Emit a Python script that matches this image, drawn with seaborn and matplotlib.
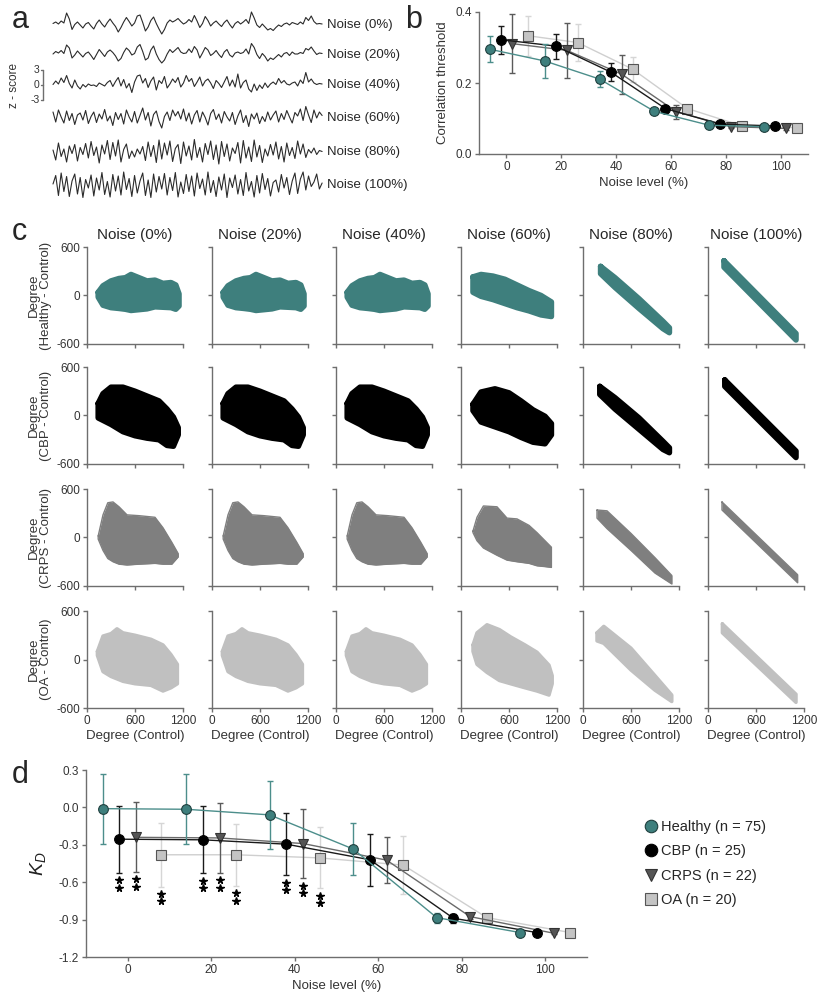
import numpy as np
import pandas as pd
import matplotlib
matplotlib.use("Agg")
import matplotlib.pyplot as plt
from matplotlib.lines import Line2D
import seaborn as sns

sns.set_theme(style="ticks")
plt.rcParams["font.family"] = ["Liberation Sans", "DejaVu Sans"]
plt.rcParams["mathtext.fontset"] = "custom"
plt.rcParams["mathtext.it"] = "Liberation Sans:italic"
plt.rcParams["mathtext.rm"] = "Liberation Sans"
plt.rcParams["axes.unicode_minus"] = False

# ----------------------------------------------------------------
# Data
# ----------------------------------------------------------------
NOISE_LEVELS = [0, 20, 40, 60, 80, 100]
GROUPS = ["Healthy", "CBP", "CRPS", "OA"]
GROUP_N = [75, 25, 22, 20]

# panel a: example z-scored time series
TRACE_0 = [0.3, 0.6, 0.2, 0.8, 0.4, 2.4, 1.2, -0.9, 0.1, 0.6,
           0.0, -0.6, 0.2, 0.5, -0.2, -0.8, 0.3, 1.0, 0.2, -0.4,
           0.5, 1.2, 0.4, -0.3, -1.4, -0.5, 0.6, 1.5, 0.7, -0.2,
           0.4, 1.8, 2.0, 0.5, -1.2, -0.4, 0.9, 1.6, 0.3, -0.8,
           -1.8, -0.9, 0.4, 1.0, 0.6, 0.9, 1.3, 0.7, 0.2, 0.5,
           1.1, 0.6, 1.9, 0.8, -0.5, 0.3, 1.7, 0.9, -0.2, 0.4,
           0.8, 0.2, -0.3, 0.5, 1.0, 0.1, -0.6, 0.3, 0.7, 0.2,
           0.6, 1.1, 0.3, 2.6, 1.4, 0.0, -0.5, 0.2, -0.4, -1.0,
           -0.7, -1.1, -0.5, 0.0, -0.3, 0.2, 0.4, 0.0, 0.5, 0.3,
           0.1, 0.6, 0.2, 1.5, 0.9, 1.8, 0.7, 0.2, 0.3, 0.2]
TRACE_20 = [0.2, 0.7, 0.4, 0.9, 0.3, 2.0, 1.4, -0.6, 0.0, 0.8,
            0.2, -0.4, 0.3, 0.6, -0.1, -0.9, 0.1, 1.1, 0.4, -0.3,
            0.6, 1.0, 0.5, -0.2, -1.2, -0.7, 0.5, 1.4, 0.9, 0.0,
            0.3, 1.6, 2.1, 0.7, -1.0, -0.6, 1.0, 1.8, 0.2, -0.9,
            -1.6, -1.0, 0.2, 1.1, 0.5, 1.0, 1.5, 0.6, 0.3, 0.4,
            1.2, 0.5, 1.7, 1.0, -0.6, 0.4, 1.5, 1.0, -0.1, 0.3,
            0.9, 0.1, -0.5, 0.6, 1.1, 0.0, -0.4, 0.4, 0.6, 0.3,
            0.5, 1.2, 0.2, 2.3, 1.5, 0.1, -0.7, 0.3, -0.3, -1.2,
            -0.6, -0.9, -0.4, 0.1, -0.4, 0.3, 0.5, -0.1, 0.6, 0.2,
            0.2, 0.5, 0.3, 1.3, 1.0, 1.6, 0.8, 0.1, 0.4, 0.3]
TRACE_40 = [0.1, 0.8, 0.2, 1.4, 0.5, 1.9, 0.3, -0.6, 1.0, -0.2,
            -0.8, 0.1, -0.4, 0.2, -0.1, 0.0, -0.3, 0.4, 0.1, -0.2,
            0.5, 0.9, -0.3, 0.7, 1.5, -0.2, 1.1, -0.6, 0.3, -1.5,
            0.6, 1.8, 2.0, 0.4, 1.3, -0.5, 0.8, 1.6, -1.0, 0.9,
            0.3, 1.7, -0.6, 0.2, 1.2, 0.5, 1.5, -0.4, 0.4, 1.9,
            0.7, 1.3, -0.3, 0.6, 1.6, -0.2, 0.8, 1.2, 0.4, -0.7,
            0.9, 0.3, -0.5, 0.6, 1.7, -0.2, 1.0, -0.4, 2.2, -0.6,
            0.5, 1.0, -0.8, -1.4, 0.2, -1.1, 0.0, -0.7, 0.4, -0.5,
            0.2, 0.6, 0.1, 1.3, 0.4, 0.9, 0.2, 0.0, 0.4, 0.6,
            -0.2, 1.0, 0.3, 2.5, 0.6, 1.2, 0.4, 0.1, 0.3, 0.2]
TRACE_60 = [1.2, -0.8, 1.6, 0.2, -1.0, 1.4, -0.5, 0.9, -1.3, 0.6,
            1.0, -0.4, 1.5, -1.1, 0.3, 1.2, -0.9, 0.8, -0.2, 1.7,
            -0.6, 0.4, -1.5, 1.1, -0.3, 0.9, -1.2, 1.6, 0.2, -0.8,
            1.3, -1.0, 0.5, 2.0, -0.4, 1.1, -1.6, 0.7, 1.4, -0.7,
            -2.0, 0.3, 1.2, -0.5, 1.6, 0.4, 1.3, -0.2, 1.8, -0.6,
            1.0, -1.2, 0.6, 1.5, -0.8, 1.2, 0.1, -1.4, 0.9, 1.7,
            -0.3, 0.8, -1.0, 1.3, 0.2, -0.6, 1.1, -1.3, 0.4, 1.6,
            -0.9, 0.5, -1.7, 0.8, -0.2, 1.0, -1.1, 0.3, -0.7, 1.2,
            -0.4, 0.6, 1.4, -0.8, 0.9, -0.3, 1.5, 0.2, -1.0, 1.1,
            0.4, 1.8, -0.5, 2.3, 0.6, -0.9, 1.6, 0.0, 1.2, 0.5]
TRACE_80 = [0.4, -1.6, 1.8, -0.9, 0.6, -2.0, 1.2, -0.3, 1.5, -1.8,
            0.9, -0.5, 1.7, -1.2, 2.1, -0.7, 1.0, -2.2, 1.4, -0.4,
            2.3, -1.5, 1.9, -0.8, 2.4, -2.0, 0.5, 1.6, -1.3, 0.2,
            -1.0, 0.6, -0.4, 1.1, -1.7, 2.0, -0.9, 1.3, -2.1, 2.4,
            -1.4, 1.8, -0.6, 2.2, -1.9, 0.7, 1.5, -2.3, 2.0, -0.8,
            1.2, -1.6, 2.5, -1.1, 0.9, -2.0, 1.7, -0.5, 2.2, -1.5,
            1.4, -2.4, 2.1, -0.9, 1.6, -1.8, 0.8, -0.3, 1.9, -2.2,
            2.3, -1.2, 1.0, -1.9, 2.4, -1.0, 1.3, -2.1, 0.6, -0.8,
            1.5, -0.6, 2.0, -1.4, 1.1, -2.0, 1.8, -0.7, 0.9, -1.3,
            2.2, -0.4, 1.6, -1.1, 0.5, -0.2, 0.8, -0.5, 0.3, 0.1]
TRACE_100 = [0.2, 1.9, -2.1, 2.4, -1.3, 1.7, -2.3, 0.8, 2.2, -1.8,
             1.5, -2.5, 1.1, -0.6, 2.0, -2.2, 1.4, -1.0, 2.5, -1.9,
             0.7, -2.4, 2.1, -1.2, 1.8, -2.0, 2.6, -0.9, 1.3, -2.3,
             1.9, -1.6, 0.8, 2.4, -2.1, 1.0, -2.5, 2.2, -1.4, 1.7,
             -0.8, 2.3, -2.0, 1.5, -1.1, 2.5, -2.4, 0.6, -1.7, 2.1,
             -1.3, 1.8, -2.2, 2.4, -0.7, 1.2, -2.0, 2.6, -1.5, 0.9,
             -2.3, 1.6, -1.0, 2.2, -2.5, 1.4, -0.5, 2.0, -1.8, 1.1,
             -2.1, 2.5, -1.2, 0.7, -2.4, 1.9, -1.6, 2.3, -0.9, 1.3,
             -2.2, 0.5, 1.0, -1.4, 2.1, -0.6, 1.5, -1.9, 0.8, 2.4,
             -1.7, 1.2, 2.6, -1.0, 1.8, -0.3, 0.6, 2.2, -0.8, 0.4]

# panel b: correlation threshold (mean, sd) per noise level
B_X_HEALTHY = [-6, 14, 34, 54, 74, 94]
B_X_CBP = [-2, 18, 38, 58, 78, 98]
B_X_CRPS = [2, 22, 42, 62, 82, 102]
B_X_OA = [8, 26, 46, 66, 86, 106]
B_HEALTHY = [0.295, 0.262, 0.211, 0.120, 0.081, 0.077]
B_HEALTHY_ERR = [0.037, 0.048, 0.023, 0.006, 0.004, 0.003]
B_CBP = [0.322, 0.304, 0.231, 0.128, 0.084, 0.079]
B_CBP_ERR = [0.039, 0.035, 0.024, 0.006, 0.004, 0.003]
B_CRPS = [0.311, 0.292, 0.225, 0.119, 0.077, 0.072]
B_CRPS_ERR = [0.082, 0.078, 0.055, 0.020, 0.005, 0.004]
B_OA = [0.333, 0.314, 0.239, 0.128, 0.079, 0.074]
B_OA_ERR = [0.056, 0.053, 0.035, 0.010, 0.004, 0.003]

# panel d: K_D (mean, sd)
D_HEALTHY = [-0.01, -0.015, -0.06, -0.334, -0.884, -1.004]
D_HEALTHY_ERR = [0.28, 0.28, 0.27, 0.21, 0.04, 0.015]
D_CBP = [-0.255, -0.26, -0.295, -0.42, -0.889, -1.004]
D_CBP_ERR = [0.27, 0.27, 0.25, 0.21, 0.035, 0.012]
D_CRPS = [-0.24, -0.245, -0.29, -0.423, -0.876, -1.009]
D_CRPS_ERR = [0.28, 0.28, 0.28, 0.185, 0.02, 0.01]
D_OA = [-0.38, -0.38, -0.405, -0.463, -0.884, -1.004]
D_OA_ERR = [0.255, 0.25, 0.245, 0.23, 0.03, 0.01]
# ** markers (noise index per group)
SIG_CBP = [0, 1, 2]
SIG_CRPS = [0, 1, 2]
SIG_OA = [0, 1, 2]

# panel c: outline of degree-difference clouds (x knots, lower, upper)
HEALTHY_BROAD_X = [140, 200, 300, 400, 480, 550, 650, 750, 850, 950, 1050, 1110, 1150]
HEALTHY_BROAD_LO = [-20, -120, -150, -160, -170, -185, -175, -165, -140, -145, -150, -170, -130]
HEALTHY_BROAD_HI = [40, 120, 180, 210, 220, 260, 220, 180, 190, 150, 160, 130, 20]
HEALTHY_MID_X = [150, 250, 400, 550, 700, 850, 1000, 1130]
HEALTHY_MID_LO = [40, -10, -50, -100, -150, -190, -240, -260]
HEALTHY_MID_HI = [230, 260, 240, 200, 130, 60, 0, -80]
HEALTHY_BAND_X = [220, 400, 700, 1000, 1080]
HEALTHY_BAND_LO = [270, 100, -160, -410, -460]
HEALTHY_BAND_HI = [360, 220, -40, -320, -400]
HEALTHY_LINE_X = [200, 1100]
HEALTHY_LINE_LO = [350, -550]
HEALTHY_LINE_HI = [430, -470]

CBP_BROAD_X = [140, 200, 300, 450, 600, 750, 900, 1000, 1080, 1140]
CBP_BROAD_LO = [-30, -60, -110, -200, -250, -280, -300, -370, -380, -240]
CBP_BROAD_HI = [150, 270, 350, 350, 300, 240, 180, 80, -20, -150]
CBP_MID_X = [150, 250, 425, 600, 750, 900, 1050, 1130]
CBP_MID_LO = [60, -80, -140, -200, -270, -330, -350, -240]
CBP_MID_HI = [140, 290, 330, 280, 180, 70, -10, -100]
CBP_BAND_X = [210, 400, 700, 1000, 1080]
CBP_BAND_LO = [260, 80, -170, -420, -460]
CBP_BAND_HI = [360, 220, -30, -320, -400]
CBP_LINE_X = [210, 1100]
CBP_LINE_LO = [360, -520]
CBP_LINE_HI = [440, -440]

CRPS_BROAD_X = [140, 200, 260, 325, 400, 500, 650, 850, 950, 1060, 1140]
CRPS_BROAD_LO = [-20, -160, -260, -300, -330, -340, -330, -320, -330, -330, -240]
CRPS_BROAD_HI = [20, 280, 430, 440, 380, 280, 270, 250, 120, -60, -200]
CRPS_MID_X = [150, 200, 280, 450, 575, 700, 850, 950, 1050, 1130]
CRPS_MID_LO = [60, -40, -130, -220, -280, -300, -320, -350, -360, -370]
CRPS_MID_HI = [80, 250, 390, 380, 240, 230, 150, 60, -40, -120]
CRPS_BAND_X = [175, 300, 600, 900, 1110]
CRPS_BAND_LO = [240, 110, -160, -440, -575]
CRPS_BAND_HI = [340, 330, 50, -250, -470]
CRPS_LINE_X = [175, 1120]
CRPS_LINE_LO = [340, -560]
CRPS_LINE_HI = [440, -460]

OA_BROAD_X = [130, 200, 300, 375, 450, 600, 800, 950, 1050, 1130]
OA_BROAD_LO = [50, -150, -210, -240, -270, -300, -320, -390, -350, -300]
OA_BROAD_HI = [100, 290, 320, 380, 330, 300, 250, 180, 60, -60]
OA_MID_X = [150, 200, 325, 480, 620, 800, 950, 1100, 1140]
OA_MID_LO = [100, -60, -160, -260, -300, -350, -390, -440, -300]
OA_MID_HI = [180, 330, 430, 370, 280, 180, 90, -70, -200]
OA_BAND_X = [175, 260, 600, 900, 1110]
OA_BAND_LO = [230, 200, -130, -380, -520]
OA_BAND_HI = [330, 410, 140, -200, -440]
OA_LINE_X = [180, 1100]
OA_LINE_LO = [330, -530]
OA_LINE_HI = [440, -430]

# ----------------------------------------------------------------
# Styles
# ----------------------------------------------------------------
TEAL = "#3e7f7d"
FILL = {"Healthy": TEAL, "CBP": "#000000", "CRPS": "#7f7f7f", "OA": "#c0c0c0"}
LINE = {"Healthy": "#4c8e8b", "CBP": "#1a1a1a", "CRPS": "#6a6a6a", "OA": "#cfcfcf"}
ECOL = {"Healthy": "#4c8e8b", "CBP": "#1a1a1a", "CRPS": "#5a5a5a", "OA": "#d6d6d6"}
MFACE = {"Healthy": TEAL, "CBP": "#000000", "CRPS": "#555555", "OA": "#c4c4c4"}
MEDGE = {"Healthy": "#1f3f3e", "CBP": "#000000", "CRPS": "#333333", "OA": "#555555"}
MARK = {"Healthy": "o", "CBP": "o", "CRPS": "v", "OA": "s"}
SPINE = "#6e6e6e"
TICKTXT = "#333333"
LABEL_FS = 9.5
TICK_FS = 8.5

W, H = 817, 997
fig = plt.figure(figsize=(W / 100, H / 100), dpi=100)


def px_axes(left, top, width, height):
    return fig.add_axes([left / W, 1 - (top + height) / H, width / W, height / H])


def style_axes(ax):
    sns.despine(ax=ax)
    for s in ("left", "bottom"):
        ax.spines[s].set_color(SPINE)
        ax.spines[s].set_linewidth(1.0)
    ax.tick_params(colors=SPINE, labelcolor=TICKTXT, labelsize=TICK_FS,
                   length=3, width=1, pad=2)


# ----------------------------------------------------------------
# a  example time series
# ----------------------------------------------------------------
traces = [TRACE_0, TRACE_20, TRACE_40, TRACE_60, TRACE_80, TRACE_100]
offsets = [-4, -10, -16, -22.6, -29.4, -36]
ax_a = px_axes(0, 5, 330, 195)
ax_a.axis("off")
for vals, off, lvl in zip(traces, offsets, NOISE_LEVELS):
    df = pd.DataFrame({"t": np.arange(len(vals)), "z": np.array(vals) + off})
    sns.lineplot(data=df, x="t", y="z", ax=ax_a, color="#2b2b2b", lw=0.8,
                 estimator=None)
    ax_a.text(100.8, off, f"Noise ({lvl}%)", va="center", ha="left",
              fontsize=9.5, clip_on=False)
ax_a.set_xlim(-19.5, 101.9)
ax_a.set_ylim(-39, 0)
ax_a.set_xlabel("")
ax_a.set_ylabel("")
zc = offsets[2]
ax_a.plot([-3.7, -3.7], [zc - 3, zc + 3], color=SPINE, lw=1)
for v in (-3, 0, 3):
    ax_a.plot([-4.4, -3.7], [zc + v, zc + v], color=SPINE, lw=1)
    ax_a.text(-5.0, zc + v, str(v), ha="right", va="center", fontsize=7.5,
              color=TICKTXT)
ax_a.text(-14.5, zc, "z - score", rotation=90, ha="center", va="center",
          fontsize=8.5, color=TICKTXT)
fig.text(12 / W, 1 - 20 / H, "a", fontsize=22, va="center")

# ----------------------------------------------------------------
# b  correlation threshold
# ----------------------------------------------------------------
ax_b = px_axes(479, 12, 329, 142)
b_data = {
    "OA": (B_X_OA, B_OA, B_OA_ERR),
    "CRPS": (B_X_CRPS, B_CRPS, B_CRPS_ERR),
    "CBP": (B_X_CBP, B_CBP, B_CBP_ERR),
    "Healthy": (B_X_HEALTHY, B_HEALTHY, B_HEALTHY_ERR),
}
for g, (xs, ys, es) in b_data.items():
    ax_b.errorbar(xs, ys, yerr=es, fmt="none", ecolor=ECOL[g], elinewidth=1,
                  capsize=2.5, capthick=1)
    sns.lineplot(x=xs, y=ys, ax=ax_b, color=LINE[g], lw=1, marker=MARK[g],
                 markersize=7 if MARK[g] != "v" else 7.5,
                 markerfacecolor=MFACE[g], markeredgecolor=MEDGE[g],
                 markeredgewidth=0.8, estimator=None)
ax_b.set_xlim(-10, 110)
ax_b.set_ylim(0, 0.4)
ax_b.set_xticks([0, 20, 40, 60, 80, 100])
ax_b.set_yticks([0.0, 0.2, 0.4])
ax_b.set_yticklabels(["0.0", "0.2", "0.4"])
ax_b.set_xlabel("Noise level (%)", fontsize=LABEL_FS, color="#333333", labelpad=3)
ax_b.set_ylabel("Correlation threshold", fontsize=LABEL_FS, color="#333333",
                labelpad=5)
style_axes(ax_b)
fig.text(405 / W, 1 - 20 / H, "b", fontsize=22, va="center")

# ----------------------------------------------------------------
# c  degree difference vs control degree
# ----------------------------------------------------------------
shapes = {
    "Healthy": [(HEALTHY_BROAD_X, HEALTHY_BROAD_LO, HEALTHY_BROAD_HI)] * 3 + [
        (HEALTHY_MID_X, HEALTHY_MID_LO, HEALTHY_MID_HI),
        (HEALTHY_BAND_X, HEALTHY_BAND_LO, HEALTHY_BAND_HI),
        (HEALTHY_LINE_X, HEALTHY_LINE_LO, HEALTHY_LINE_HI)],
    "CBP": [(CBP_BROAD_X, CBP_BROAD_LO, CBP_BROAD_HI)] * 3 + [
        (CBP_MID_X, CBP_MID_LO, CBP_MID_HI),
        (CBP_BAND_X, CBP_BAND_LO, CBP_BAND_HI),
        (CBP_LINE_X, CBP_LINE_LO, CBP_LINE_HI)],
    "CRPS": [(CRPS_BROAD_X, CRPS_BROAD_LO, CRPS_BROAD_HI)] * 3 + [
        (CRPS_MID_X, CRPS_MID_LO, CRPS_MID_HI),
        (CRPS_BAND_X, CRPS_BAND_LO, CRPS_BAND_HI),
        (CRPS_LINE_X, CRPS_LINE_LO, CRPS_LINE_HI)],
    "OA": [(OA_BROAD_X, OA_BROAD_LO, OA_BROAD_HI)] * 3 + [
        (OA_MID_X, OA_MID_LO, OA_MID_HI),
        (OA_BAND_X, OA_BAND_LO, OA_BAND_HI),
        (OA_LINE_X, OA_LINE_LO, OA_LINE_HI)],
}
edge_lw = {"Healthy": 4.0, "CBP": 4.0, "CRPS": 1.0, "OA": 2.5}
col_left = [87, 212, 336, 461, 583, 708]
row_top = [247, 367, 489, 611]

for r, g in enumerate(GROUPS):
    for c, lvl in enumerate(NOISE_LEVELS):
        ax = px_axes(col_left[c], row_top[r], 96, 97)
        xs, lo, hi = shapes[g][c]
        ax.fill_between(xs, lo, hi, color=FILL[g], lw=0)
        ox = list(xs) + list(xs[::-1]) + [xs[0]]
        oy = list(hi) + list(lo[::-1]) + [hi[0]]
        ax.plot(ox, oy, color=FILL[g], lw=edge_lw[g], solid_joinstyle="round",
                solid_capstyle="round")
        ax.set_xlim(0, 1200)
        ax.set_ylim(-600, 600)
        ax.set_xticks([0, 600, 1200])
        ax.set_yticks([-600, 0, 600])
        style_axes(ax)
        if r < 3:
            ax.set_xticklabels([])
        else:
            ax.set_xlabel("Degree (Control)", fontsize=LABEL_FS, color="#333333",
                          labelpad=2)
        if c > 0:
            ax.set_yticklabels([])
        else:
            ax.set_ylabel(f"Degree\n({g} - Control)", fontsize=LABEL_FS,
                          color="#333333", labelpad=3, linespacing=1.0)
        if r == 0:
            ax.set_title(f"Noise ({lvl}%)", fontsize=11, pad=6)
fig.text(12 / W, 1 - 232 / H, "c", fontsize=22, va="center")

# ----------------------------------------------------------------
# d  K_D
# ----------------------------------------------------------------
ax_d = px_axes(86, 770, 501, 187)
d_data = {
    "OA": (B_X_OA, D_OA, D_OA_ERR, SIG_OA),
    "CRPS": (B_X_CRPS, D_CRPS, D_CRPS_ERR, SIG_CRPS),
    "CBP": (B_X_CBP, D_CBP, D_CBP_ERR, SIG_CBP),
    "Healthy": (B_X_HEALTHY, D_HEALTHY, D_HEALTHY_ERR, []),
}
for g, (xs, ys, es, sig) in d_data.items():
    ax_d.errorbar(xs, ys, yerr=es, fmt="none", ecolor=ECOL[g], elinewidth=1,
                  capsize=2.5, capthick=1)
    sns.lineplot(x=xs, y=ys, ax=ax_d, color=LINE[g], lw=1, marker=MARK[g],
                 markersize=7 if MARK[g] != "v" else 7.5,
                 markerfacecolor=MFACE[g], markeredgecolor=MEDGE[g],
                 markeredgewidth=0.8, estimator=None)
    for i in sig:
        base = ys[i] - es[i]
        ax_d.plot([xs[i], xs[i]], [base - 0.058, base - 0.118], ls="none",
                  marker="*", color="black", markersize=5.5)
ax_d.set_xlim(-10, 110)
ax_d.set_ylim(-1.2, 0.3)
ax_d.set_xticks([0, 20, 40, 60, 80, 100])
yt = [0.3, 0.0, -0.3, -0.6, -0.9, -1.2]
ax_d.set_yticks(yt)
ax_d.set_yticklabels([f"{v:.1f}" for v in yt])
ax_d.set_xlabel("Noise level (%)", fontsize=LABEL_FS, color="#333333", labelpad=3)
ax_d.set_ylabel(r"$K_D$", fontsize=14, color="#222222", labelpad=8)
style_axes(ax_d)
fig.text(12 / W, 1 - 775 / H, "d", fontsize=22, va="center")

handles = [Line2D([], [], ls="none", marker=MARK[g], markersize=9,
                  markerfacecolor=MFACE[g], markeredgecolor=MEDGE[g],
                  markeredgewidth=0.8) for g in GROUPS]
labels = [f"{g} (n = {n})" for g, n in zip(GROUPS, GROUP_N)]
fig.legend(handles, labels, loc="upper left",
           bbox_to_anchor=(635 / W, 1 - 813 / H), frameon=False, fontsize=10.5,
           handletextpad=0.05, labelspacing=0.7, handlelength=1.2,
           borderpad=0)

fig.savefig("out.png", dpi=100)
